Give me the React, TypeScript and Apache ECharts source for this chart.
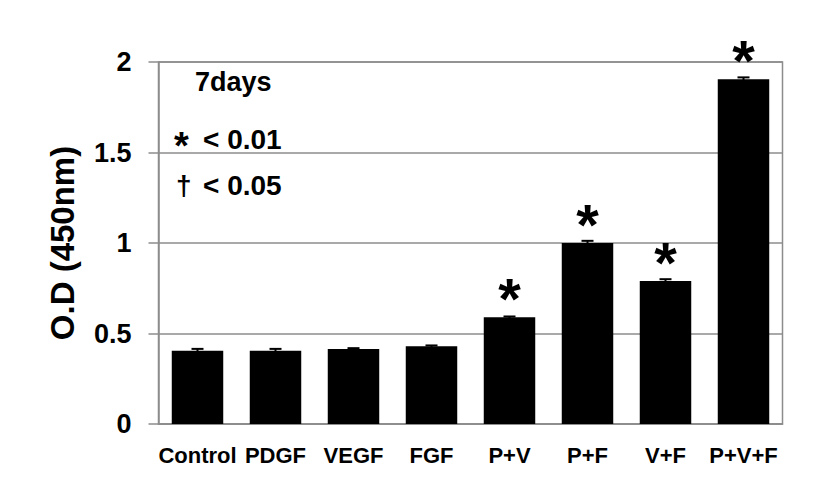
import React, { useEffect, useRef } from "react";
import * as echarts from "echarts";

const categories = ["Control", "PDGF", "VEGF", "FGF", "P+V", "P+F", "V+F", "P+V+F"];
const values = [0.405, 0.405, 0.415, 0.43, 0.59, 1.0, 0.79, 1.905];
const errors = [0.01, 0.01, 0.004, 0.004, 0.004, 0.012, 0.01, 0.01];
const marks = ["", "", "", "", "*", "*", "*", "*"];
const yMin = 0;
const yMax = 2;
const yStep = 0.5;
const legendTitle = "7days";
const legendSymbols = ["*", "†"];
const legendLines = ["< 0.01", "< 0.05"];

const FONT = "'Liberation Sans', Arial, sans-serif";

export default function App() {
  const ref = useRef<HTMLDivElement>(null);
  useEffect(() => {
    if (!ref.current) return;
    const chart = echarts.init(ref.current, undefined, { renderer: "svg" });
    const gridColor = "#8c8c8c";
    chart.setOption({
      animation: false,
      backgroundColor: "#fff",
      grid: {
        left: 158.5,
        right: 41.5,
        top: 62,
        bottom: 57,
        show: true,
        borderColor: gridColor,
        borderWidth: 1.5,
      },
      xAxis: {
        type: "category",
        data: categories,
        axisLine: { lineStyle: { color: gridColor, width: 1.5 } },
        axisTick: { show: false },
        axisLabel: {
          margin: 20,
          color: "#000",
          fontFamily: FONT,
          fontWeight: "bold",
          fontSize: 22,
          interval: 0,
        },
      },
      yAxis: {
        type: "value",
        min: yMin,
        max: yMax,
        interval: yStep,
        name: "O.D (450nm)",
        nameLocation: "middle",
        nameGap: 80,
        nameTextStyle: { color: "#000", fontFamily: FONT, fontWeight: "bold", fontSize: 33 },
        axisLine: { show: true, lineStyle: { color: gridColor, width: 1.5 } },
        axisTick: { show: true, length: 10, lineStyle: { color: gridColor, width: 1.5 } },
        splitLine: { lineStyle: { color: gridColor, width: 1.5 } },
        axisLabel: {
          margin: 27,
          color: "#000",
          fontFamily: FONT,
          fontWeight: "bold",
          fontSize: 27,
        },
      },
      graphic: [
        {
          type: "text",
          left: 195,
          top: 68,
          style: { text: legendTitle, fill: "#000", font: `bold 27px ${FONT}` },
        },
        {
          type: "text",
          left: 174,
          top: 127,
          style: { text: legendSymbols[0], fill: "#000", font: `bold 38px ${FONT}` },
        },
        {
          type: "text",
          left: 203,
          top: 125,
          style: { text: legendLines[0], fill: "#000", font: `bold 28px ${FONT}` },
        },
        {
          type: "text",
          left: 176,
          top: 171,
          style: { text: legendSymbols[1], fill: "#000", font: `bold 28px ${FONT}` },
        },
        {
          type: "text",
          left: 203,
          top: 171,
          style: { text: legendLines[1], fill: "#000", font: `bold 28px ${FONT}` },
        },
      ],
      series: [
        {
          type: "bar",
          barWidth: "66%",
          itemStyle: { color: "#000" },
          data: values.map((v, i) => ({
            value: v,
            label: {
              show: marks[i] !== "",
              position: "top",
              distance: -10,
              formatter: () => marks[i],
              color: "#000",
              fontFamily: FONT,
              fontWeight: "bold",
              fontSize: 58,
            },
          })),
          z: 2,
        },
        {
          type: "custom",
          z: 3,
          data: categories.map((c, i) => [i, values[i], errors[i]]),
          renderItem: (params: any, api: any) => {
            const x = api.value(0);
            const v = api.value(1);
            const e = api.value(2);
            const top = api.coord([x, v + e]);
            const bot = api.coord([x, v - e]);
            const hw = 6;
            return {
              type: "group",
              children: [
                {
                  type: "line",
                  shape: { x1: top[0], y1: top[1], x2: bot[0], y2: bot[1] },
                  style: { stroke: "#000", lineWidth: 2 },
                },
                {
                  type: "line",
                  shape: { x1: top[0] - hw, y1: top[1], x2: top[0] + hw, y2: top[1] },
                  style: { stroke: "#000", lineWidth: 2 },
                },
              ],
            };
          },
        },
      ],
    });
    return () => chart.dispose();
  }, []);
  return <div ref={ref} style={{ position: "fixed", left: 0, top: 0, width: 824, height: 481 }} />;
}
